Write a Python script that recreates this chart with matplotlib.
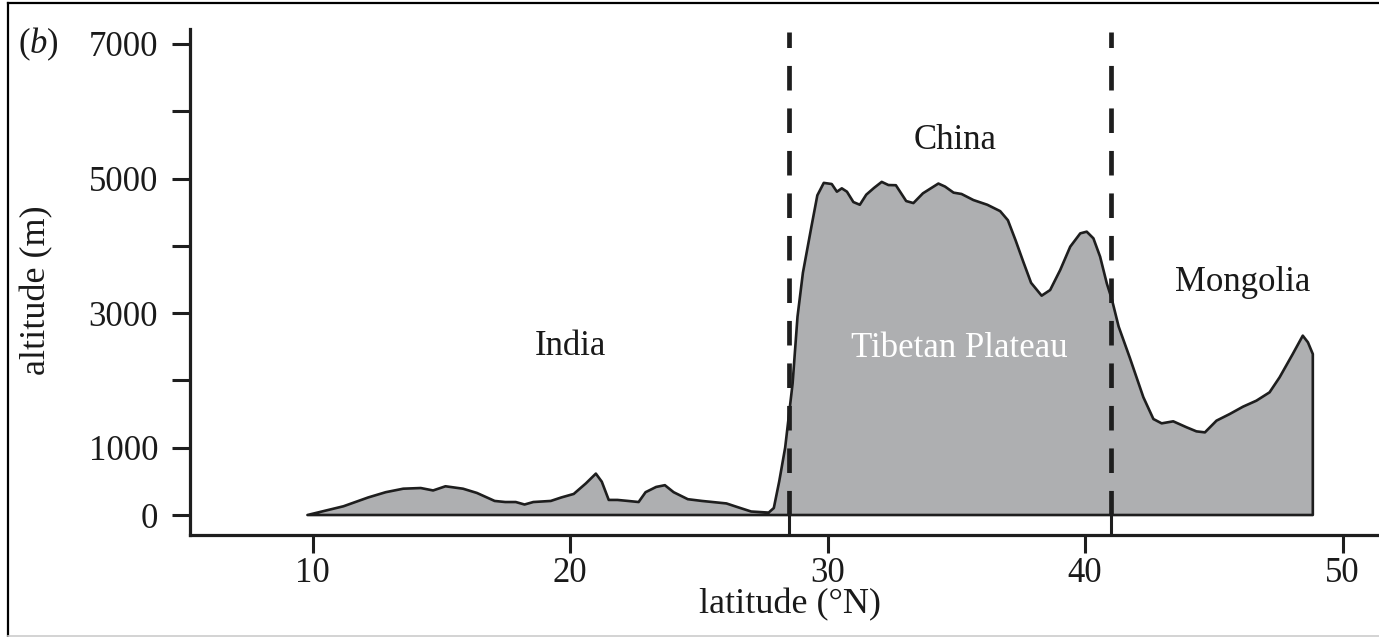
import numpy as np
import matplotlib
matplotlib.use("Agg")
import matplotlib.pyplot as plt
from matplotlib.lines import Line2D

plt.rcParams['font.family'] = ['Liberation Serif', 'DejaVu Serif']
plt.rcParams['mathtext.fontset'] = 'custom'
plt.rcParams['mathtext.rm'] = 'Liberation Serif'
plt.rcParams['mathtext.it'] = 'Liberation Serif:italic'

# ---- data (latitude °N, altitude m) read from the profile ----
latitude = [9.8, 11.2, 12.16, 12.84, 13.52, 14.2, 14.68, 15.16, 15.84, 16.38,
            17.07, 17.48, 17.89, 18.23, 18.57, 19.25, 19.66, 20.14, 20.61, 21.0,
            21.23, 21.5, 21.84, 22.25, 22.66, 22.93, 23.34, 23.68, 24.02, 24.57,
            25.12, 26.07, 26.48, 27.03, 27.71, 27.91, 28.12, 28.35, 28.64, 28.83,
            29.04, 29.37, 29.6, 29.85, 30.16, 30.36, 30.55, 30.75, 31.0, 31.25,
            31.5, 31.8, 32.1, 32.36, 32.65, 33.05, 33.33, 33.7, 34.3, 34.56,
            34.89, 35.2, 35.66, 36.2, 36.7, 37.0, 37.3, 37.6, 37.9, 38.31,
            38.64, 39.03, 39.42, 39.81, 40.06, 40.32, 40.58, 40.84, 41.04, 41.3,
            41.74, 42.26, 42.65, 42.97, 43.42, 43.94, 44.32, 44.65, 45.1, 45.61,
            46.13, 46.65, 47.16, 47.55, 48.06, 48.45, 48.65, 48.84]
altitude = [0, 130, 261, 339, 391, 401, 365, 427, 391, 328,
            209, 193, 193, 156, 193, 209, 261, 313, 469, 615,
            495, 224, 224, 209, 193, 339, 417, 443, 339, 235,
            209, 172, 120, 52, 36, 104, 500, 1000, 1956, 2947,
            3600, 4284, 4750, 4935, 4918, 4804, 4854, 4804, 4650, 4610,
            4760, 4860, 4950, 4903, 4900, 4665, 4635, 4780, 4925, 4880,
            4790, 4770, 4680, 4610, 4515, 4380, 4080, 3760, 3450, 3259,
            3343, 3640, 3987, 4185, 4210, 4111, 3839, 3442, 3200, 2800,
            2330, 1750, 1426, 1362, 1392, 1303, 1243, 1228, 1402, 1500,
            1610, 1699, 1823, 2046, 2392, 2665, 2566, 2392]

borders = [28.5, 41.0]
y_ticks = [0, 1000, 2000, 3000, 4000, 5000, 6000, 7000]
y_ticklabels = ['0', '1000', '', '3000', '', '5000', '', '7000']
x_ticks = [10, 20, 30, 40, 50]
x_ticklabels = ['10', '20', '30', '40', '50']
region_labels = [("India", 20.0, 2500, '#1a1a1a'),
                 ("China", 34.95, 5570, '#1a1a1a'),
                 ("Tibetan Plateau", 35.1, 2480, 'white'),
                 ("Mongolia", 46.1, 3450, '#1a1a1a')]

W, H = 1379, 637
fig = plt.figure(figsize=(W / 100, H / 100), dpi=100)
ax = fig.add_axes([190 / W, 1 - 535 / H, (W - 190) / W, (535 - 29.3) / H])

ink = '#1e1e1e'
poly_x = list(latitude) + [latitude[-1], latitude[0]]
poly_y = list(altitude) + [0, 0]
ax.fill(poly_x, poly_y, facecolor='#aeafb1', edgecolor=ink, linewidth=1.9,
        joinstyle='round', zorder=2)

ax.set_xlim(5.24, 51.41)
ax.set_ylim(-297, 7217)

for b in borders:
    ax.plot([b, b], [0, 7180], color=ink, linewidth=3.4, dashes=(5.2, 3.8),
            zorder=3, solid_capstyle='butt', dash_capstyle='butt')
    ax.plot([b, b], [-297, 0], color=ink, linewidth=2.2, zorder=3)

for s in ['top', 'right']:
    ax.spines[s].set_visible(False)
for s in ['left', 'bottom']:
    ax.spines[s].set_linewidth(2.3)
    ax.spines[s].set_color(ink)

ax.set_yticks(y_ticks)
ax.set_yticklabels(y_ticklabels)
ax.set_xticks(x_ticks)
ax.set_xticklabels(x_ticklabels)
ax.tick_params(axis='both', direction='out', length=13, width=2.2, color=ink,
               labelsize=25, labelcolor='#1a1a1a')
ax.tick_params(axis='y', pad=10)
ax.tick_params(axis='x', pad=3)
ax.patch.set_visible(False)

for txt, x, y, c in region_labels:
    ax.text(x, y, txt, ha='center', va='center', fontsize=25, color=c, zorder=4)

fig.text(790 / W, 1 - 605 / H, 'latitude (°N)', ha='center', va='center',
         fontsize=26, color='#1a1a1a')
fig.text(37 / W, 1 - 290 / H, 'altitude (m)', ha='center', va='center',
         fontsize=26, color='#1a1a1a', rotation=90)
fig.text(38 / W, 1 - 44 / H, r'$\mathrm{(}b\mathrm{)}$', ha='center', va='center',
         fontsize=25, color='#1a1a1a')

# outer frame of the panel
fig.add_artist(Line2D([8 / W, 8 / W], [1 - 636 / H, 1 - 3 / H],
                      transform=fig.transFigure, color='black', linewidth=1.6))
fig.add_artist(Line2D([8 / W, 1], [1 - 3 / H, 1 - 3 / H],
                      transform=fig.transFigure, color='black', linewidth=1.6))
fig.add_artist(Line2D([8 / W, 1], [1 - 635.5 / H, 1 - 635.5 / H],
                      transform=fig.transFigure, color='#cccccc', linewidth=1.2))

fig.savefig('out.png', dpi=100)
